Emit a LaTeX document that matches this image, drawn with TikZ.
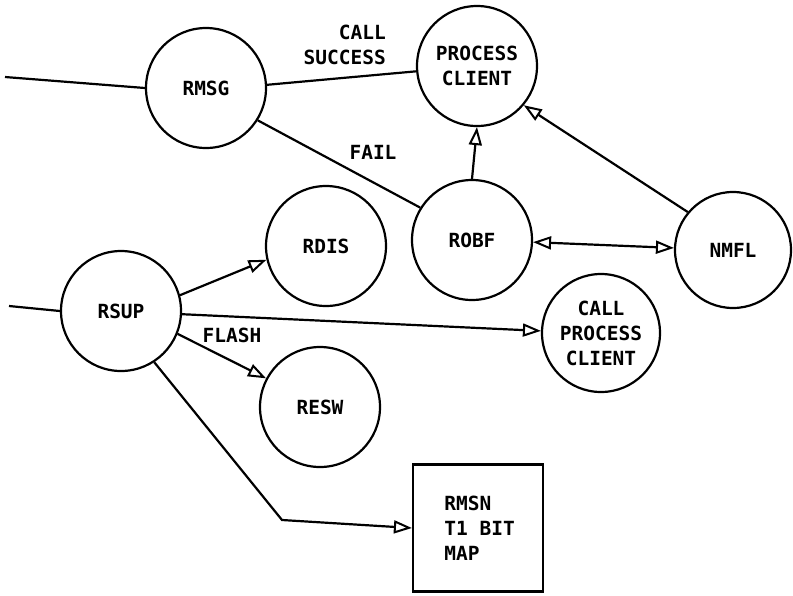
\documentclass[tikz,border=0pt]{standalone}
\usepackage{fontspec}
\setmonofont{DejaVu Sans Mono}
\usetikzlibrary{arrows.meta}
\begin{document}
\begin{tikzpicture}[x=1pt,y=-1pt,
  line width=2.2pt,
  every node/.style={font=\ttfamily\bfseries\fontsize{19.5}{25}\selectfont},
  proc/.style={draw,circle,minimum size=120pt,inner sep=0pt,align=center},
  store/.style={draw,minimum width=130pt,minimum height=127pt,inner sep=0pt},
  lbl/.style={inner sep=1pt},
  tip/.tip={Triangle[open,length=18pt,width=13pt,line width=2pt]},
  flow/.style={-tip},
  both/.style={tip-tip}]
  \useasboundingbox (0,0) rectangle (793,595);

  % processes
  \node[proc] (rmsg) at (206,88) {RMSG};
  \node[proc] (pc) at (477,66) {PROCESS\\CLIENT};
  \node[proc] (robf) at (472,240) {ROBF};
  \node[proc,minimum size=116pt] (nmfl) at (733,250) {NMFL};
  \node[proc] (rdis) at (326,246) {RDIS};
  \node[proc] (rsup) at (121,311) {RSUP};
  \node[proc] (resw) at (320,407) {RESW};
  \node[proc,minimum size=118pt] (cpc) at (601,333) {CALL\\PROCESS\\CLIENT};
  \node[store] (rmsn) at (478,528) {};
  \node[anchor=west,align=left] at (440,528) {RMSN\\T1 BIT\\MAP};

  % loose ends of incoming lines
  \coordinate (inA) at (5,77);
  \coordinate (inB) at (9,306);
  \coordinate (bend) at (282,520);

  % connectors
  \draw (inA) -- (rmsg.west);
  \draw (inB) -- (rsup.west);
  \draw (rmsg.3) -- (pc.185);
  \draw (rmsg.-32) -- (robf.148);
  \draw[flow] (robf.90) -- (pc.-90);
  \draw[flow] (nmfl.140) -- (pc.-40);
  \draw[both] (robf.-2) -- (nmfl.178);
  \draw[flow] (rsup.15) -- (rdis.193);
  \draw[flow] (rsup.-3) -- (cpc.178);
  \draw[flow] (rsup.-22) -- (resw.152);
  \draw[flow] (rsup.-57) -- (bend) -- (rmsn.west);

  % connector labels
  \node[lbl,align=right,anchor=south east] at (388,67) {CALL\\SUCCESS};
  \node[lbl] at (373,152) {FAIL};
  \node[lbl] at (232,335) {FLASH};
\end{tikzpicture}
\end{document}
